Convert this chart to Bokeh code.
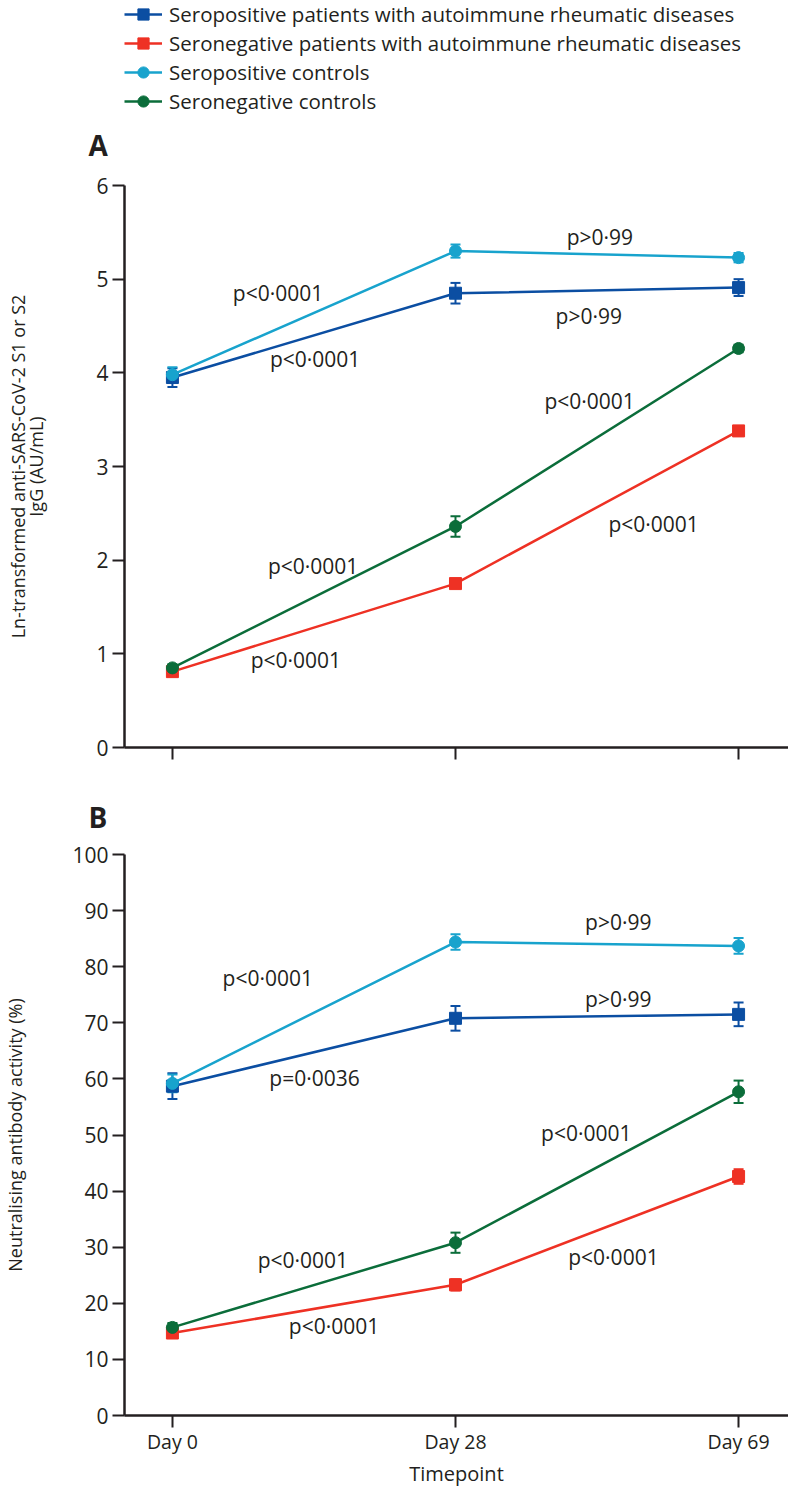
from bokeh.plotting import figure
from bokeh.models import (ColumnDataSource, Whisker, TeeHead, Legend, LegendItem,
                          FixedTicker, Range1d, LinearAxis)
from bokeh.layouts import column
from bokeh.embed import file_html
from bokeh.resources import INLINE
from bokeh.core.properties import value

# ---------------- data ----------------
timepoints = ["Day 0", "Day 28", "Day 69"]
groups = [
    "Seropositive patients with autoimmune rheumatic diseases",
    "Seronegative patients with autoimmune rheumatic diseases",
    "Seropositive controls",
    "Seronegative controls",
]

# Panel A: Ln-transformed anti-SARS-CoV-2 S1/S2 IgG (mean, SE)
igg_seropos_pat = [3.95, 4.85, 4.91]
igg_seropos_pat_err = [0.10, 0.11, 0.09]
igg_seroneg_pat = [0.81, 1.75, 3.38]
igg_seroneg_pat_err = [0.04, 0.05, 0.05]
igg_seropos_ctl = [3.98, 5.30, 5.23]
igg_seropos_ctl_err = [0.08, 0.07, 0.05]
igg_seroneg_ctl = [0.85, 2.36, 4.26]
igg_seroneg_ctl_err = [0.04, 0.11, 0.04]

# Panel B: neutralising antibody activity (%)
nab_seropos_pat = [58.7, 70.8, 71.5]
nab_seropos_pat_err = [2.3, 2.2, 2.1]
nab_seroneg_pat = [14.7, 23.3, 42.6]
nab_seroneg_pat_err = [0.8, 1.0, 1.3]
nab_seropos_ctl = [59.2, 84.4, 83.7]
nab_seropos_ctl_err = [1.6, 1.4, 1.4]
nab_seroneg_ctl = [15.7, 30.8, 57.7]
nab_seroneg_ctl_err = [0.8, 1.8, 2.0]

# p-value annotations: text and placement (data units)
pA_text = ["p<0·0001", "p<0·0001", "p>0·99", "p>0·99",
           "p<0·0001", "p<0·0001", "p<0·0001", "p<0·0001"]
pA_x = [0.373, 0.504, 1.51, 1.471, 1.474, 0.497, 0.436, 1.70]
pA_y = [4.85, 4.15, 5.45, 4.61, 3.70, 1.94, 0.936, 2.39]

pB_text = ["p<0·0001", "p=0·0036", "p>0·99", "p>0·99",
           "p<0·0001", "p<0·0001", "p<0·0001", "p<0·0001"]
pB_x = [0.337, 0.502, 1.575, 1.575, 1.462, 0.461, 0.571, 1.558]
pB_y = [77.9, 60.2, 87.9, 74.2, 50.3, 27.7, 15.9, 28.3]

# ---------------- style ----------------
colors = ["#0b4ea2", "#ee3124", "#18a3cd", "#0b6d3a"]
markers = ["square", "square", "circle", "circle"]
INK = "#231f20"
FONT = "Open Sans"
W = 788
LEFT = 123
xpos = list(range(len(timepoints)))
X_RANGE = (-0.1693, 2.1764)
NAN = float("nan")


def style_title(t, standoff):
    t.align = "left"
    t.offset = -36
    t.standoff = standoff
    t.vertical_align = "middle"
    t.text_font = FONT
    t.text_font_size = "28px"
    t.text_font_style = "bold"
    t.text_color = INK


def legend_fig(height, letter):
    h = figure(width=W, height=height, x_range=Range1d(0, 1),
               y_range=Range1d(0, 1), x_axis_type=None, y_axis_type=None,
               output_backend="svg", toolbar_location=None,
               title=letter, title_location="below",
               min_border=0, min_border_left=LEFT)
    h.outline_line_color = None
    h.xgrid.visible = False
    h.ygrid.visible = False
    style_title(h.title, 0)
    items = []
    for g, c, m in zip(groups, colors, markers):
        # legend-only renderers (no visible data)
        lr = h.line(x=[NAN], y=[NAN], line_color=c, line_width=2.5)
        sr = h.scatter(x=[NAN], y=[NAN], marker=m, size=12,
                       fill_color=c, line_color=c)
        items.append(LegendItem(label=g, renderers=[lr, sr]))
    leg = Legend(items=items, location="top_left",
                 label_text_font=FONT, label_text_font_size="20.5px",
                 label_text_color=INK, glyph_width=38, glyph_height=28,
                 label_height=28, label_standoff=7, spacing=1,
                 padding=0, margin=0, border_line_alpha=0,
                 background_fill_alpha=0)
    h.add_layout(leg)
    return h


def style_axis(ax):
    ax.axis_line_color = INK
    ax.axis_line_width = 2.5
    ax.major_tick_line_color = INK
    ax.major_tick_line_width = 2
    ax.major_tick_in = 0
    ax.major_tick_out = 12
    ax.minor_tick_line_color = None
    ax.major_label_text_font = FONT
    ax.major_label_text_color = INK
    ax.axis_label_text_font = FONT
    ax.axis_label_text_color = INK
    ax.axis_label_text_font_style = "normal"


def make_panel(series, errs, letter, ylabels, yticks, height, top, bottom,
               ptext, px, py, show_x, label_standoffs):
    p = figure(width=W, height=height, title=letter,
               x_range=Range1d(*X_RANGE), y_range=Range1d(yticks[0], yticks[-1]),
               output_backend="svg", toolbar_location=None,
               min_border_left=LEFT, min_border_right=0, min_border_top=top,
               min_border_bottom=bottom)
    p.outline_line_color = None
    p.xgrid.visible = False
    p.ygrid.visible = False
    if letter:
        style_title(p.title, 36)

    style_axis(p.xaxis[0])
    style_axis(p.yaxis[0])

    yax = p.yaxis[0]
    yax.ticker = FixedTicker(ticks=yticks)
    yax.major_label_text_font_size = "21px"
    yax.major_label_standoff = 4
    yax.axis_label = ylabels[-1]
    yax.axis_label_text_font_size = "18px"
    yax.axis_label_standoff = label_standoffs[-1]

    # first line of a two-line y title, carried by a tick-less outer axis
    if len(ylabels) > 1:
        ax2 = LinearAxis(axis_label=ylabels[0], ticker=FixedTicker(ticks=[]))
        style_axis(ax2)
        ax2.axis_line_color = None
        ax2.major_tick_out = 0
        ax2.major_label_standoff = 0
        ax2.axis_label_text_font_size = "18px"
        ax2.axis_label_standoff = label_standoffs[0]
        p.add_layout(ax2, "left")

    xax = p.xaxis[0]
    xax.ticker = FixedTicker(ticks=xpos)
    if show_x:
        xax.major_label_overrides = {i: tp for i, tp in zip(xpos, timepoints)}
        xax.major_label_text_font_size = "19.5px"
        xax.major_label_standoff = 0
        xax.axis_label = "Timepoint"
        xax.axis_label_text_font_size = "20px"
        xax.axis_label_standoff = 2
    else:
        xax.major_label_overrides = {i: "" for i in xpos}
        xax.major_label_text_font_size = "1px"
        xax.major_label_standoff = 0

    for vals, err, c, m in zip(series, errs, colors, markers):
        src = ColumnDataSource(dict(x=xpos, y=vals,
                                    upper=[v + e for v, e in zip(vals, err)],
                                    lower=[v - e for v, e in zip(vals, err)]))
        p.line("x", "y", source=src, line_color=c, line_width=2.5)
        p.add_layout(Whisker(source=src, base="x", upper="upper", lower="lower",
                             dimension="height", line_color=c, line_width=2,
                             upper_head=TeeHead(size=10, line_color=c, line_width=2),
                             lower_head=TeeHead(size=10, line_color=c, line_width=2)))
        p.scatter("x", "y", source=src, marker=m, size=12,
                  fill_color=c, line_color=c)

    p.text(x=px, y=py, text=ptext, text_font=value(FONT),
           text_font_size="21px", text_color=INK,
           text_align="center", text_baseline="middle")
    return p


leg = legend_fig(164, "A")
pA = make_panel(
    [igg_seropos_pat, igg_seroneg_pat, igg_seropos_ctl, igg_seroneg_ctl],
    [igg_seropos_pat_err, igg_seroneg_pat_err, igg_seropos_ctl_err, igg_seroneg_ctl_err],
    None, ["Ln-transformed anti-SARS-CoV-2 S1 or S2", "IgG (AU/mL)"],
    [0, 1, 2, 3, 4, 5, 6], 612, 21, 29, pA_text, pA_x, pA_y, False, [-8, 45])

pB = make_panel(
    [nab_seropos_pat, nab_seroneg_pat, nab_seropos_ctl, nab_seroneg_ctl],
    [nab_seropos_pat_err, nab_seroneg_pat_err, nab_seropos_ctl_err, nab_seroneg_ctl_err],
    "B", ["Neutralising antibody activity (%)"],
    list(range(0, 101, 10)), 713, 78, 73, pB_text, pB_x, pB_y, True, [42])

layout = column(leg, pA, pB, spacing=0)
open("out.html", "w").write(file_html(layout, INLINE))
